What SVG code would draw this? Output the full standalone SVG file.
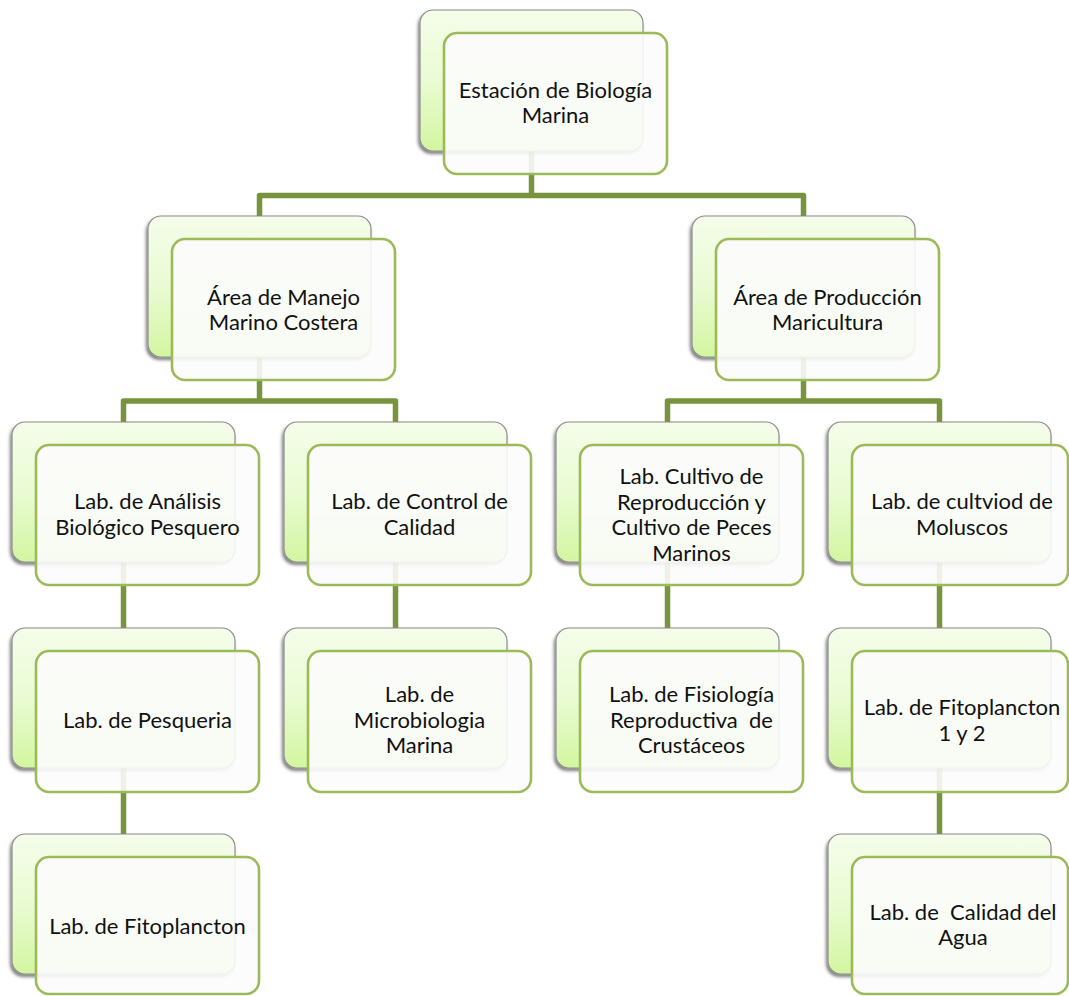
<svg xmlns="http://www.w3.org/2000/svg" width="1069" height="996" viewBox="0 0 1069 996">
<defs>
<linearGradient id="g" x1="0" y1="0" x2="0" y2="1">
<stop offset="0" stop-color="#f5fdea"/>
<stop offset="0.5" stop-color="#eafbd3"/>
<stop offset="1" stop-color="#d3f6a0"/>
</linearGradient>
<filter id="sh" x="-10%" y="-10%" width="120%" height="125%">
<feDropShadow dx="-1.5" dy="2.5" stdDeviation="1.6" flood-color="#000" flood-opacity="0.5"/>
</filter>
</defs>
<style>
.bk{fill:url(#g);stroke:#8c8c8c;stroke-width:1.2;filter:url(#sh)}
.fr{fill:#fcfcfc;fill-opacity:0.9;stroke:#9bbb59;stroke-width:2.6}
.t{font-family:Lato,"Open Sans","Liberation Sans",sans-serif;font-size:22px;fill:#111111;text-anchor:middle;white-space:pre}
.c{fill:none;stroke:#77933c;stroke-width:5.5;stroke-linejoin:round}
</style>
<rect width="1069" height="996" fill="#ffffff"/>
<g id="connectors">
<path class="c" d="M531.5,150 V195.5"/>
<path class="c" d="M259.5,216 V195.5 H803.5 V216"/>
<path class="c" d="M259.5,357 V401"/>
<path class="c" d="M123.5,422 V401 H395.5 V422"/>
<path class="c" d="M803.5,357 V401"/>
<path class="c" d="M667.5,422 V401 H939.5 V422"/>
<path class="c" d="M123.5,562 V628"/>
<path class="c" d="M123.5,768 V834"/>
<path class="c" d="M395.5,562 V628"/>
<path class="c" d="M667.5,562 V628"/>
<path class="c" d="M939.5,562 V628"/>
<path class="c" d="M939.5,768 V834"/>
</g>
<g id="n0">
<rect class="bk" x="420" y="10" width="223" height="141" rx="13"/>
<rect class="fr" x="444" y="33" width="223" height="141" rx="13"/>
<text class="t" x="555.5" y="98">Estación de Biología</text>
<text class="t" x="555.5" y="123">Marina</text>
</g>
<g id="n1">
<rect class="bk" x="148" y="216" width="223" height="141" rx="13"/>
<rect class="fr" x="172" y="239" width="223" height="141" rx="13"/>
<text class="t" x="283.5" y="305">Área de Manejo</text>
<text class="t" x="283.5" y="330">Marino Costera</text>
</g>
<g id="n2">
<rect class="bk" x="692" y="216" width="223" height="141" rx="13"/>
<rect class="fr" x="716" y="239" width="223" height="141" rx="13"/>
<text class="t" x="827.5" y="305">Área de Producción</text>
<text class="t" x="827.5" y="330">Maricultura</text>
</g>
<g id="n3">
<rect class="bk" x="12" y="422" width="223" height="140" rx="13"/>
<rect class="fr" x="36" y="445" width="223" height="140" rx="13"/>
<text class="t" x="147.5" y="509">Lab. de Análisis</text>
<text class="t" x="147.5" y="535">Biológico Pesquero</text>
</g>
<g id="n4">
<rect class="bk" x="284" y="422" width="223" height="140" rx="13"/>
<rect class="fr" x="308" y="445" width="223" height="140" rx="13"/>
<text class="t" x="419.5" y="509">Lab. de Control de</text>
<text class="t" x="419.5" y="535">Calidad</text>
</g>
<g id="n5">
<rect class="bk" x="556" y="422" width="223" height="140" rx="13"/>
<rect class="fr" x="580" y="445" width="223" height="140" rx="13"/>
<text class="t" x="691.5" y="484">Lab. Cultivo de</text>
<text class="t" x="691.5" y="509.5">Reproducción y</text>
<text class="t" x="691.5" y="535">Cultivo de Peces</text>
<text class="t" x="691.5" y="560.5">Marinos</text>
</g>
<g id="n6">
<rect class="bk" x="828" y="422" width="223" height="140" rx="13"/>
<rect class="fr" x="852" y="445" width="216" height="140" rx="13"/>
<text class="t" x="962" y="509">Lab. de cultviod de</text>
<text class="t" x="962" y="535">Moluscos</text>
</g>
<g id="n7">
<rect class="bk" x="12" y="628" width="223" height="140" rx="13"/>
<rect class="fr" x="36" y="651" width="223" height="141" rx="13"/>
<text class="t" x="147.5" y="728">Lab. de Pesqueria</text>
</g>
<g id="n8">
<rect class="bk" x="284" y="628" width="223" height="140" rx="13"/>
<rect class="fr" x="308" y="651" width="223" height="141" rx="13"/>
<text class="t" x="419.5" y="702">Lab. de</text>
<text class="t" x="419.5" y="727.5">Microbiologia</text>
<text class="t" x="419.5" y="753">Marina</text>
</g>
<g id="n9">
<rect class="bk" x="556" y="628" width="223" height="140" rx="13"/>
<rect class="fr" x="580" y="651" width="223" height="141" rx="13"/>
<text class="t" x="691.5" y="702">Lab. de Fisiología</text>
<text class="t" x="691.5" y="727.5">Reproductiva  de</text>
<text class="t" x="691.5" y="753">Crustáceos</text>
</g>
<g id="n10">
<rect class="bk" x="828" y="628" width="223" height="140" rx="13"/>
<rect class="fr" x="852" y="651" width="216" height="141" rx="13"/>
<text class="t" x="962" y="715">Lab. de Fitoplancton</text>
<text class="t" x="962" y="741">1 y 2</text>
</g>
<g id="n11">
<rect class="bk" x="12" y="834" width="223" height="140" rx="13"/>
<rect class="fr" x="36" y="857" width="223" height="137" rx="13"/>
<text class="t" x="147.5" y="934">Lab. de Fitoplancton</text>
</g>
<g id="n12">
<rect class="bk" x="828" y="834" width="223" height="140" rx="13"/>
<rect class="fr" x="852" y="857" width="216" height="137" rx="13"/>
<text class="t" x="963" y="920">Lab. de  Calidad del</text>
<text class="t" x="963" y="945">Agua</text>
</g>
</svg>
